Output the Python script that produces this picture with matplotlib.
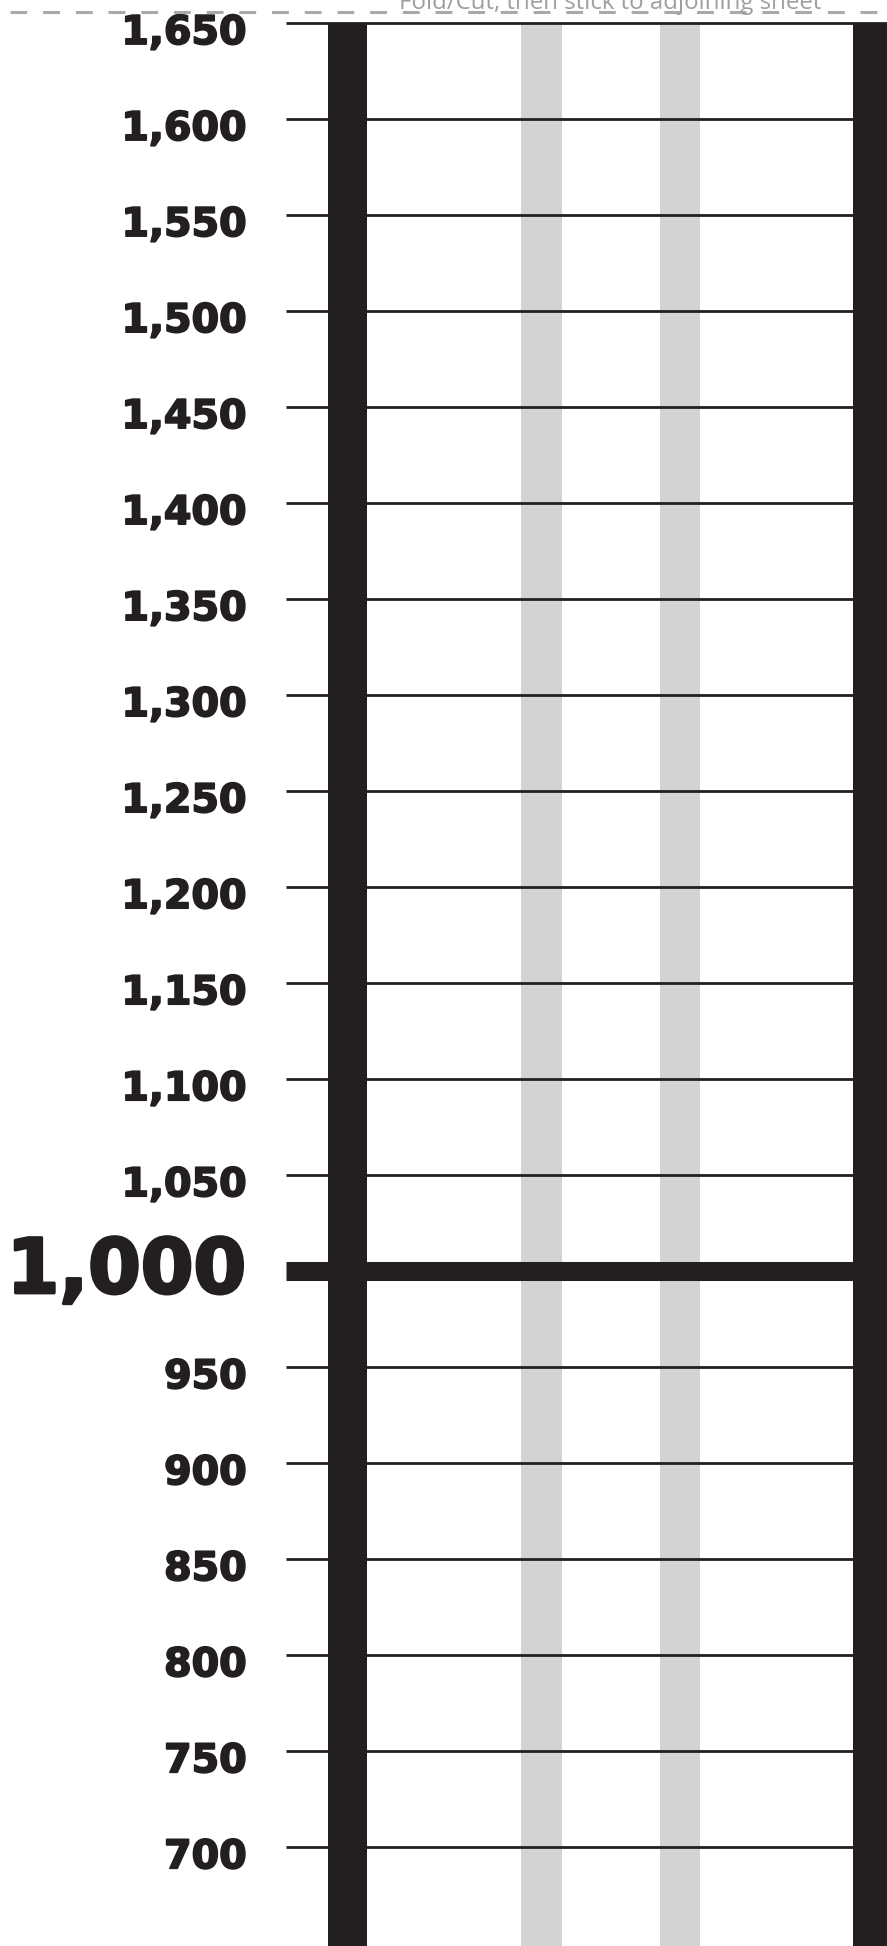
import matplotlib
matplotlib.use('Agg')
import matplotlib.pyplot as plt
import matplotlib.patheffects as pe
from matplotlib.lines import Line2D

# values on the scale
values = list(range(700, 1651, 50))
labels = [f"{v:,}" for v in values]
major = 1000
note = "Fold/Cut, then stick to adjoining sheet"

ink = '#231f20'
grey = '#d1d3d4'

fig = plt.figure(figsize=(8.875, 19.465), dpi=100)
ax = fig.add_axes([286/887, 0, 1 - 286/887, (1946 - 23) / 1946])
ax.set_xlim(0, 1)
ax.set_ylim(648.3, 1650)
ax.axis('off')

# grey guide bands and black bars
ax.axvspan(0.391, 0.459, color=grey, lw=0, zorder=1)
ax.axvspan(0.622, 0.689, color=grey, lw=0, zorder=1)
ax.axvspan(0.0699, 0.1348, color=ink, lw=0, zorder=3)
ax.axvspan(0.942, 1.0, color=ink, lw=0, zorder=3)

for v, lab in zip(values, labels):
    big = v == major
    ax.axhline(v, color=ink, lw=13.7 if big else 2.0, zorder=2,
               solid_capstyle='butt', clip_on=False)
    ax.annotate(lab, xy=(0, v), xycoords=('axes fraction', 'data'),
                xytext=(-28.5, -16 if big else -15.5), textcoords='offset points',
                ha='right', va='baseline', color=ink,
                fontsize=54.5 if big else 28.5, fontweight='bold',
                family='DejaVu Sans', annotation_clip=False,
                path_effects=[pe.withStroke(linewidth=2.2 if big else 1.3, foreground=ink)])

# cut line at the top
yl = 1 - 12.5 / 1946
fig.add_artist(Line2D([10/887, 1], [yl, yl], transform=fig.transFigure,
                      color='#a7a9ac', lw=2.2, linestyle=(0, (5.5, 5.2))))
fig.text(610/887, 1 - 9/1946, note, ha='center', va='baseline',
         fontsize=17.3, color='#9d9fa2', family=['Open Sans', 'DejaVu Sans'])

fig.savefig('out.png', dpi=100)
